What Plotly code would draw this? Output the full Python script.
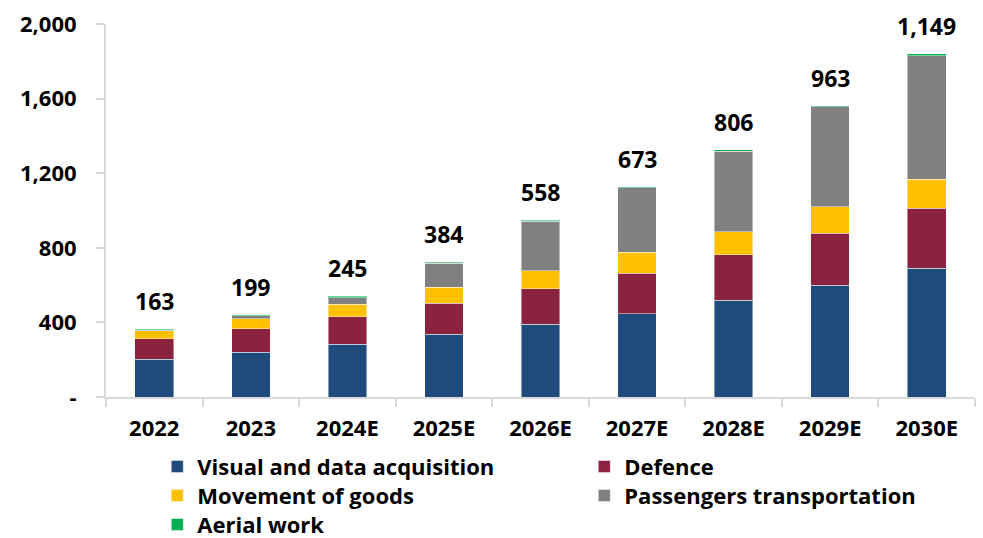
import plotly.graph_objects as go

categories = ["2022", "2023", "2024E", "2025E", "2026E", "2027E", "2028E", "2029E", "2030E"]
visual = [202, 240, 283, 337, 390, 447, 519, 600, 691]
defence = [111, 125, 147, 166, 190, 217, 244, 279, 320]
goods = [41, 54, 68, 86, 97, 111, 123, 140, 156]
passengers = [4, 16, 34, 129, 266, 347, 431, 537, 664]
aerial = [6, 5, 8, 5, 6, 5, 8, 7, 9]
top_labels = ["163", "199", "245", "384", "558", "673", "806", "963", "1,149"]
ytick_vals = [0, 400, 800, 1200, 1600, 2000]
ytick_text = ["-", "400", "800", "1,200", "1,600", "2,000"]

series = [
    ("Visual and data acquisition", visual, "#1F4A7C", "legend"),
    ("Defence", defence, "#8B2240", "legend"),
    ("Movement of goods", goods, "#FFC000", "legend2"),
    ("Passengers transportation", passengers, "#808080", "legend2"),
    ("Aerial work", aerial, "#00B050", "legend3"),
]

FONT = "Open Sans"
fig = go.Figure()
for name, vals, col, lg in series:
    fig.add_trace(go.Bar(
        x=categories, y=vals, name=name, legend=lg,
        marker=dict(color=col, line=dict(color="rgba(255,255,255,0.45)", width=1)),
    ))

totals = [sum(v) for v in zip(visual, defence, goods, passengers, aerial)]
for i, (t, lab) in enumerate(zip(totals, top_labels)):
    fig.add_annotation(x=i, y=t, text=f"<b>{lab}</b>", showarrow=False,
                       xref="x", yref="y",
                       yanchor="bottom", yshift=10,
                       font=dict(family=FONT, size=23, color="black"))

def legend_cfg(ytop):
    return dict(
        orientation="h", xref="container", yref="container",
        x=0.160, y=ytop, xanchor="left", yanchor="top",
        entrywidth=382, entrywidthmode="pixels",
        traceorder="normal",
        font=dict(family=FONT, size=22, color="black", weight="bold"),
        tracegroupgap=0, itemclick=False, itemdoubleclick=False,
        bgcolor="rgba(0,0,0,0)",
    )

fig.update_layout(
    barmode="stack",
    bargap=0.6,
    width=983, height=538,
    margin=dict(l=106, r=8, t=24, b=141, autoexpand=False),
    plot_bgcolor="white", paper_bgcolor="white",
    font=dict(family=FONT, color="black"),
    showlegend=True,
    legend=legend_cfg(0.1717),
    legend2=legend_cfg(0.1178),
    legend3=legend_cfg(0.0639),
)
fig.update_xaxes(
    type="category", range=[-0.5, len(categories) - 0.5],
    showline=True, linecolor="#D9D9D9", linewidth=2,
    ticks="outside", tickson="boundaries", ticklen=8, tickcolor="#D9D9D9", tickwidth=2,
    tickfont=dict(family=FONT, size=22, color="black", weight="bold"),
    tickangle=0, ticklabelstandoff=11,
    showgrid=False,
)
fig.update_yaxes(
    range=[0, 2000],
    tickvals=ytick_vals, ticktext=ytick_text,
    showline=True, linecolor="#D9D9D9", linewidth=2,
    ticks="outside", ticklen=8, tickcolor="#D9D9D9", tickwidth=2,
    tickfont=dict(family=FONT, size=22, color="black", weight="bold"),
    ticklabelstandoff=15,
    showgrid=False, zeroline=False,
)

fig.write_html("out.html")
